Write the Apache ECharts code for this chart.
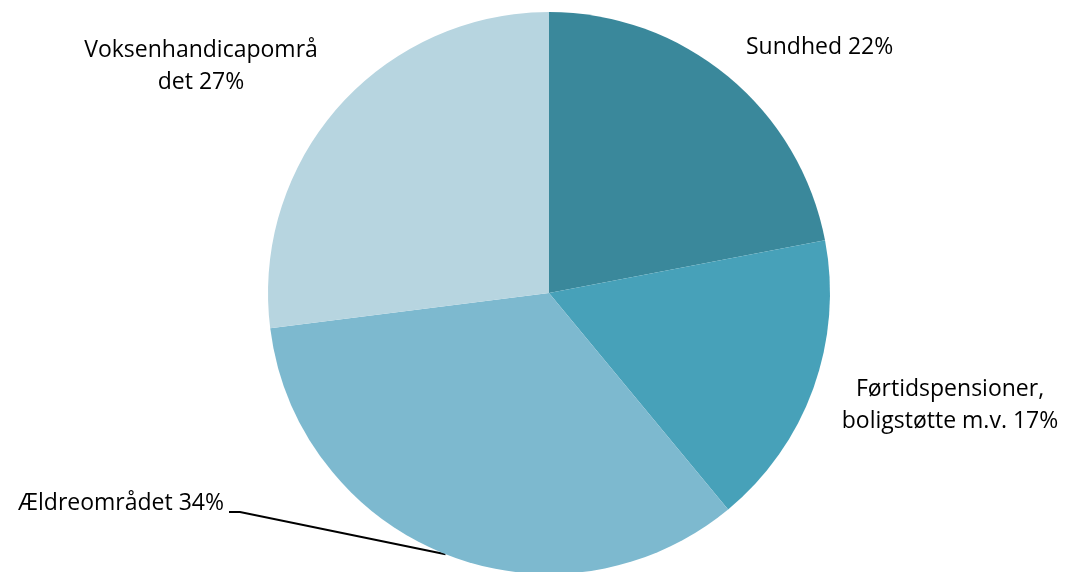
<!DOCTYPE html>
<html>
<head>
<meta charset="utf-8">
<script src="https://cdn.jsdelivr.net/npm/echarts@6/dist/echarts.min.js"></script>
<style>html,body{margin:0;padding:0;background:#fff;}#c{width:1066px;height:572px;}</style>
</head>
<body>
<div id="c"></div>
<script>
const categories = ['Sundhed', 'Førtidspensioner,\nboligstøtte m.v.', 'Ældreområdet', 'Voksenhandicapområ\ndet'];
const values = [22, 17, 34, 27];
const colors = ['#3A889B', '#47A1B9', '#7DB9CF', '#B7D5E0'];

// label placement (layout only)
const labelPos = [
  { x: 746, y: 47, align: 'left' },
  { x: 950, y: 405, align: 'center' },
  { x: 224, y: 503, align: 'right' },
  { x: 201, y: 66, align: 'center' }
];

const chart = echarts.init(document.getElementById('c'), null, { renderer: 'canvas' });
chart.setOption({
  animation: false,
  backgroundColor: '#ffffff',
  series: [{
    type: 'pie',
    center: [549, 293],
    radius: 281,
    startAngle: 90,
    clockwise: true,
    silent: true,
    data: categories.map((c, i) => ({
      name: c,
      value: values[i],
      itemStyle: { color: colors[i] },
      labelLine: { show: i === 2 }
    })),
    itemStyle: { borderWidth: 0 },
    label: {
      show: true,
      position: 'outside',
      formatter: p => p.name + ' ' + p.value + '%',
      fontFamily: 'Open Sans',
      fontSize: 23,
      lineHeight: 32,
      color: '#000000',
      overflow: 'none',
      width: 400
    },
    labelLine: {
      show: true,
      lineStyle: { color: '#000000', width: 2 },
      smooth: false
    },
    labelLayout: function (p) {
      const L = labelPos[p.dataIndex];
      const out = { x: L.x, y: L.y, align: L.align, verticalAlign: 'middle', hideOverlap: false, moveOverlap: false };
      if (p.dataIndex === 2 && p.labelLinePoints) {
        out.labelLinePoints = [p.labelLinePoints[0], [L.x + 16, L.y + 9], [L.x + 5, L.y + 9]];
      }
      return out;
    }
  }]
});
</script>
</body>
</html>
